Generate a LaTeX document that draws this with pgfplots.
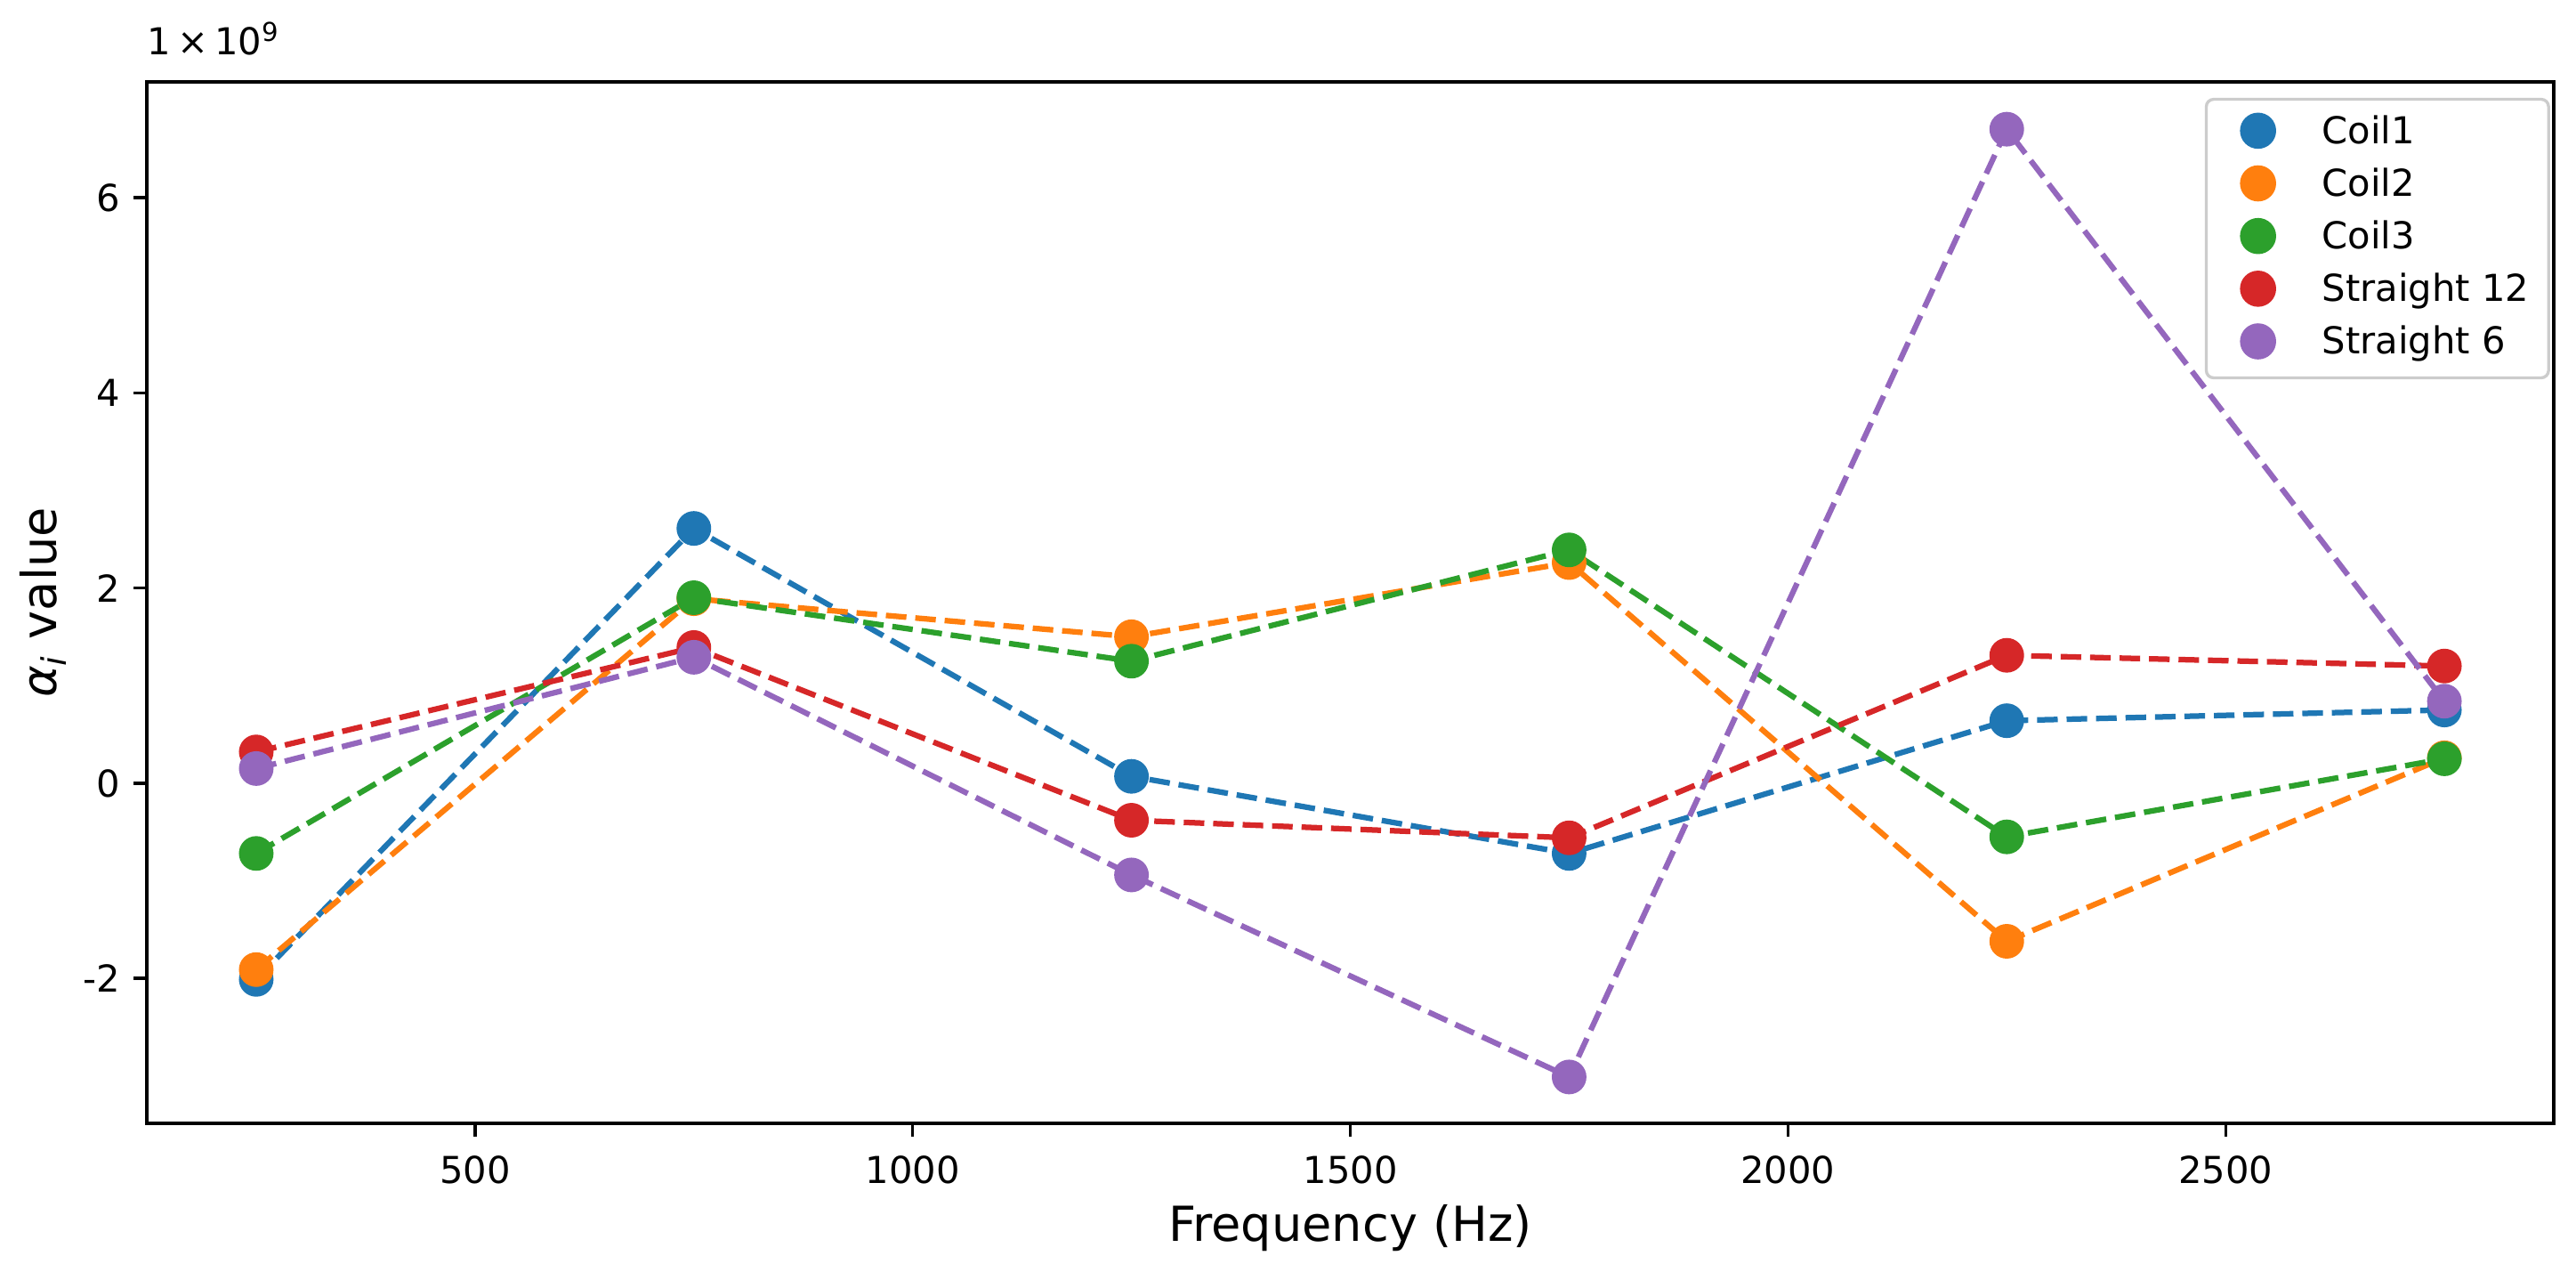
\documentclass[border=0pt]{standalone}
\usepackage{pgfplots}
\pgfplotsset{compat=1.18}
\usepackage{fontspec}
\setmainfont{DejaVu Sans}
\definecolor{c0}{HTML}{1F77B4}
\definecolor{c1}{HTML}{FF7F0E}
\definecolor{c2}{HTML}{2CA02C}
\definecolor{c3}{HTML}{D62728}
\definecolor{c4}{HTML}{9467BD}
\pgfplotstableread{
x coila coilb coilc stra strb
250 -2.01 -1.91 -0.72 0.32 0.15
750 2.61 1.89 1.90 1.39 1.29
1250 0.07 1.50 1.25 -0.38 -0.94
1750 -0.72 2.26 2.39 -0.56 -3.01
2250 0.64 -1.62 -0.55 1.31 6.70
2750 0.75 0.26 0.25 1.20 0.84
}\datatable
\begin{document}
\begin{tikzpicture}
\path[use as bounding box] (-39.6pt,-42pt) rectangle (655.2pt,302.88pt);
\begin{axis}[
  name=ax,
  at={(0,0)}, anchor=south west,
  scale only axis=true,
  width=649.2pt, height=280.8pt,
  xmin=125, xmax=2875, ymin=-3.485, ymax=7.185,
  xtick={500,1000,1500,2000,2500},
  xticklabels={500,1000,1500,2000,2500},
  ytick={-2,0,2,4,6},
  yticklabels={-2,0,2,4,6},
  tick align=outside,
  xtick pos=bottom, ytick pos=left,
  major tick length=3.5pt,
  every tick/.style={black, line width=0.8pt},
  axis line style={line width=0.8pt},
  tick label style={font=\fontsize{10}{12}\selectfont},
  xticklabel style={inner sep=0pt, anchor=north, yshift=-5pt},
  yticklabel style={inner sep=0pt, anchor=east, xshift=-3.5pt},
  xlabel={Frequency (Hz)},
  xlabel style={font=\fontsize{13}{15}\selectfont, at={(axis description cs:0.5,-0.1136)}, anchor=base, inner sep=0pt},
  ylabel={\textit{α}\textsubscript{\textit{i}} value},
  ylabel style={font=\fontsize{13}{15}\selectfont, at={(axis description cs:-0.0377,0.5)}, anchor=base, rotate=0, inner sep=0pt},
  legend style={at={(1,1)}, anchor=north east, xshift=-1pt, yshift=-4.3pt,
    draw=black!20, line width=0.8pt, rounded corners=2pt, fill=white,
    font=\fontsize{10}{12}\selectfont, inner xsep=5.3pt, inner ysep=4pt,
    row sep=3.9pt, column sep=12.8pt,
    nodes={inner sep=0pt, text height=7.3pt, text depth=2.36pt}},
  legend cell align=left,
  legend image code/.code={\path[draw=none,fill=none] (-8.67pt,0pt) -- (4.47pt,0pt); \draw[#1] plot coordinates {(0pt,1pt)};},
]
\addplot[only marks, mark=*, mark size=4.47pt, c0, mark options={draw=none, fill=c0}] table[x=x,y=coila] {\datatable};
\addlegendentry{Coil1}
\addplot[only marks, mark=*, mark size=4.47pt, c1, mark options={draw=none, fill=c1}] table[x=x,y=coilb] {\datatable};
\addlegendentry{Coil2}
\addplot[only marks, mark=*, mark size=4.47pt, c2, mark options={draw=none, fill=c2}] table[x=x,y=coilc] {\datatable};
\addlegendentry{Coil3}
\addplot[only marks, mark=*, mark size=4.47pt, c3, mark options={draw=none, fill=c3}] table[x=x,y=stra] {\datatable};
\addlegendentry{Straight 12}
\addplot[only marks, mark=*, mark size=4.47pt, c4, mark options={draw=none, fill=c4}] table[x=x,y=strb] {\datatable};
\addlegendentry{Straight 6}
\addplot[forget plot, no marks, c0, line width=1.5pt, dash pattern=on 5.55pt off 2.4pt] table[x=x,y=coila] {\datatable};
\addplot[forget plot, no marks, c1, line width=1.5pt, dash pattern=on 5.55pt off 2.4pt] table[x=x,y=coilb] {\datatable};
\addplot[forget plot, no marks, c2, line width=1.5pt, dash pattern=on 5.55pt off 2.4pt] table[x=x,y=coilc] {\datatable};
\addplot[forget plot, no marks, c3, line width=1.5pt, dash pattern=on 5.55pt off 2.4pt] table[x=x,y=stra] {\datatable};
\addplot[forget plot, no marks, c4, line width=1.5pt, dash pattern=on 5.55pt off 2.4pt] table[x=x,y=strb] {\datatable};
\end{axis}
\node[anchor=base west, inner sep=0pt, font=\fontsize{10}{12}\selectfont] at ([yshift=7.2pt]ax.north west) {1\,×\,10\textsuperscript{9}};
\end{tikzpicture}
\end{document}
